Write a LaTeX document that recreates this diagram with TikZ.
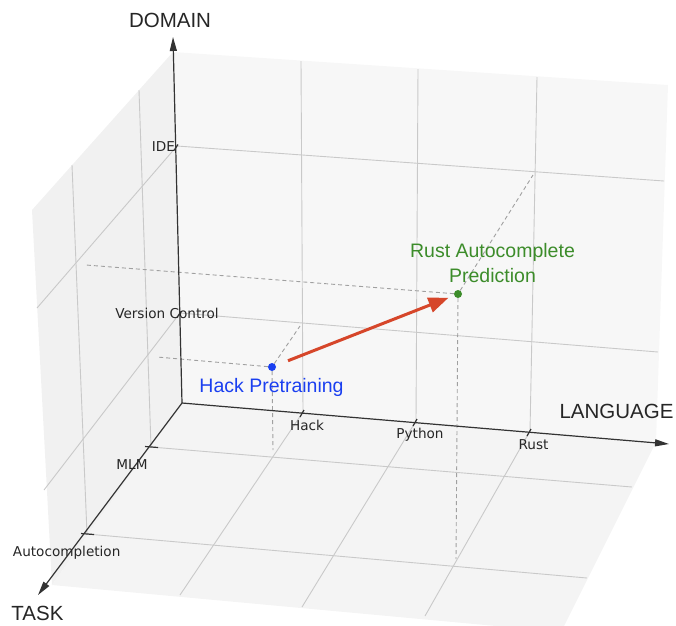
\documentclass[tikz,border=0pt]{standalone}
\usepackage{fontspec}
\setmainfont{Liberation Sans}
\newfontfamily\tickfont{DejaVu Sans}
\usetikzlibrary{arrows.meta}

\definecolor{backpane}{HTML}{F7F7F7}
\definecolor{leftpane}{HTML}{F1F1F1}
\definecolor{floorpane}{HTML}{F4F4F4}
\definecolor{gridgray}{HTML}{C9C9C9}
\definecolor{axisgray}{HTML}{333333}
\definecolor{projgray}{HTML}{A0A0A0}
\definecolor{hackblue}{HTML}{1A3FF0}
\definecolor{rustgreen}{HTML}{3C8C2A}
\definecolor{arrowred}{HTML}{D6462A}

\begin{document}
\begin{tikzpicture}[x=1pt,y=-1pt,
	gridline/.style={gridgray,line width=0.9pt},
	axisline/.style={axisgray,line width=1.2pt},
	ticklabel/.style={font=\tickfont\fontsize{13.6}{16}\selectfont,text=black!85,inner sep=0pt,anchor=base},
	axistitle/.style={font=\fontsize{20.5}{24}\selectfont,text=black!85,inner sep=0pt,anchor=base},
	proj/.style={projgray,line width=0.9pt,dash pattern=on 4pt off 3pt},
	dot/.style={circle,inner sep=0pt,minimum size=8pt},
	datalabel/.style={font=\fontsize{19.5}{25}\selectfont,inner sep=0pt,align=center}]
	\useasboundingbox (0,0) rectangle (676,625);
	\clip (0,0) rectangle (676,625);
	
	\coordinate (O) at (182,403);		%where the three axes meet
	\coordinate (btl) at (173,52);		%back pane, top left
	\coordinate (btr) at (668,85);		%back pane, top right
	\coordinate (bbr) at (656,442);		%back pane, bottom right
	\coordinate (lft) at (32,210);		%left pane, front top
	\coordinate (lfb) at (52,585);		%left pane, front bottom
	\coordinate (ffr) at (561,632);		%floor, front right (below the page)
	
	\fill[backpane] (O) -- (btl) -- (btr) -- (bbr) -- cycle;
	\fill[leftpane] (O) -- (btl) -- (lft) -- (lfb) -- cycle;
	\fill[floorpane] (O) -- (bbr) -- (ffr) -- (lfb) -- cycle;
	
	\coordinate (xa) at (303,412);		%Hack
	\coordinate (xb) at (416,421);		%Python
	\coordinate (xc) at (530,431);		%Rust
	\coordinate (ya) at (151,447);		%MLM
	\coordinate (yb) at (87,534);		%Autocompletion
	\coordinate (za) at (180,313);		%Version Control
	\coordinate (zb) at (177,146);		%IDE
	
	%grid on the back pane
	\foreach \x/\y/\t in {301/61/xa,418/69/xb,537/77/xc}
		\draw[gridline] (\x,\y) -- (\t);
	\foreach \x/\y/\t in {658/352/za,664/181/zb}
		\draw[gridline] (\t) -- (\x,\y);
	%grid on the left pane
	\foreach \x/\y/\t in {139/90/ya,72/165/yb}
		\draw[gridline] (\x,\y) -- (\t);
	\foreach \x/\y/\t in {44/490/za,37/308/zb}
		\draw[gridline] (\t) -- (\x,\y);
	%grid on the floor
	\foreach \x/\y/\t in {632/487/ya,587/578/yb,180/595/xa,302/607/xb,425/616/xc}
		\draw[gridline] (\t) -- (\x,\y);
	
	\node[dot,fill=hackblue] (hack) at (272,367) {};
	\node[dot,fill=rustgreen] (rust) at (458,294) {};
	\coordinate (hackL) at (157,357);
	\coordinate (hackB) at (300,326);
	\coordinate (hackF) at (273,450);
	\coordinate (rustL) at (86,265);
	\coordinate (rustB) at (533,175);
	\coordinate (rustF) at (456,559);
	\foreach \p in {L,B,F}{
		\draw[proj] (hack) -- (hack\p);
		\draw[proj] (rust) -- (rust\p);
	}
	
	%axes
	\coordinate (xt) at (669,444);
	\coordinate (yt) at (38,595);
	\coordinate (zt) at (173,37);
	\foreach \t in {xt,yt,zt}
		\draw[axisline,-{Triangle[length=14pt,width=7pt]}] (O) -- (\t);
	\foreach \t in {xa,xb,xc}
		\draw[axisline] ([shift={(1,-2)}]\t) -- ([shift={(-3,5)}]\t);
	\foreach \t in {ya,yb}
		\draw[axisline] ([shift={(-6,-0.5)}]\t) -- ([shift={(7,0.5)}]\t);
	\foreach \t in {za,zb}
		\draw[axisline] ([shift={(1,-1.5)}]\t) -- ([shift={(-3,4.5)}]\t);
	
	\draw[arrowred,line width=3pt,shorten <=13pt,shorten >=6pt,-{Triangle[length=20pt,width=15pt]}] (hack) -- (rust);
	
	\node[axistitle] (domain) at (170,27) {DOMAIN};
	\node[axistitle] (language) at (616.5,418) {LANGUAGE};
	\node[axistitle] (task) at (37.5,620) {TASK};
	
	\node[ticklabel] (ide) at (163.5,151.5) {IDE};
	\node[ticklabel] (vc) at (167,318) {Version Control};
	\node[ticklabel] (mlm) at (132,469) {MLM};
	\node[ticklabel] (auto) at (66.7,556) {Autocompletion};
	\node[ticklabel] (hacktick) at (307,430) {Hack};
	\node[ticklabel] (pythontick) at (420,438) {Python};
	\node[ticklabel] (rusttick) at (533.5,449) {Rust};
	
	\node[datalabel,text=hackblue,anchor=base] (hacklabel) at (271.5,392) {Hack Pretraining};
	\node[datalabel,text=rustgreen,anchor=south] (rustlabel) at (492.5,283) {Rust Autocomplete\\Prediction};
\end{tikzpicture}
\end{document}
